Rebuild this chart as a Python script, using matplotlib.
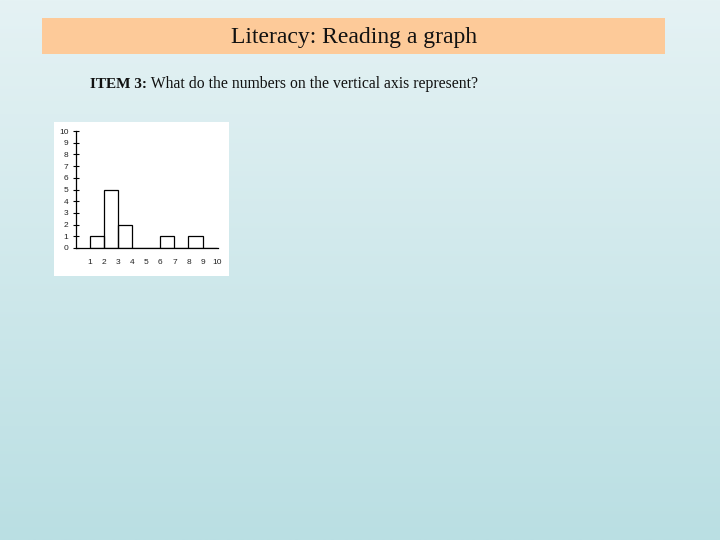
import numpy as np
import matplotlib
matplotlib.use("Agg")
import matplotlib.pyplot as plt
from matplotlib.patches import Rectangle

# Data
bin_edges = [1, 2, 3, 4, 5, 6, 7, 8, 9, 10]
counts = [1, 5, 2, 0, 0, 1, 0, 1, 0]
x_ticks = [1, 2, 3, 4, 5, 6, 7, 8, 9, 10]
y_ticks = [0, 1, 2, 3, 4, 5, 6, 7, 8, 9, 10]
title = "Literacy: Reading a graph"
item_bold = "ITEM 3:"
item_text = " What do the numbers on the vertical axis represent?"

W, H = 720, 540
fig = plt.figure(figsize=(7.2, 5.4), dpi=100)

# Background gradient
bg = fig.add_axes([0, 0, 1, 1])
bg.set_axis_off()
top = np.array([0xe5, 0xf2, 0xf4]) / 255
bot = np.array([0xba, 0xdf, 0xe3]) / 255
t = np.linspace(0, 1, 256)[:, None]
grad = top[None, :] * (1 - t) + bot[None, :] * t
bg.imshow(grad[:, None, :], aspect="auto", extent=[0, 1, 0, 1])
bg.set_xlim(0, 1)
bg.set_ylim(0, 1)

# Title box
bg.add_patch(Rectangle((42 / W, 1 - 54 / H), (665 - 42) / W, 36 / H,
                       facecolor="#fdca99", edgecolor="none", zorder=2))
bg.text(354 / W, 1 - 38 / H, title, ha="center", va="center",
        fontsize=17, family="Liberation Serif", color="#111111", zorder=3)

# Item text
tb = bg.text(90 / W, 1 - 84 / H, item_bold, ha="left", va="center",
             fontsize=11, family="Liberation Serif", fontweight="bold",
             color="#111111", zorder=3)
fig.canvas.draw()
ext = tb.get_window_extent(renderer=fig.canvas.get_renderer())
bg.text(ext.x1 / W, 1 - 84 / H, item_text, ha="left", va="center",
        fontsize=11.3, family="Liberation Serif", color="#111111", zorder=3)

# White inset
bg.add_patch(Rectangle((54 / W, 1 - 276 / H), (229 - 54) / W, (276 - 122) / H,
                       facecolor="white", edgecolor="none", zorder=2))

# Histogram axes
ax = fig.add_axes([76 / W, 1 - 248 / H, (218 - 76) / W, (248 - 131) / H])
ax.patch.set_alpha(0)
lefts = bin_edges[:-1]
widths = [b - a for a, b in zip(bin_edges[:-1], bin_edges[1:])]
ax.bar(lefts, counts, width=widths, align="edge", facecolor="none",
       edgecolor="black", linewidth=0.9)
ax.set_xlim(0, 10.1)
ax.set_ylim(0, 10)
for s in ["top", "right"]:
    ax.spines[s].set_visible(False)
ax.spines["left"].set_linewidth(0.9)
ax.spines["bottom"].set_linewidth(0.9)
ax.set_yticks(y_ticks)
ax.set_yticklabels([str(v) for v in y_ticks], family="Liberation Sans",
                   fontsize=6, color="#222222")
ax.set_xticks(x_ticks)
ax.set_xticklabels([str(v) for v in x_ticks], family="Liberation Sans",
                   fontsize=6, color="#222222")
ax.tick_params(axis="y", direction="inout", length=5, width=0.8, pad=3)
ax.tick_params(axis="x", length=0, pad=8)

fig.savefig("out.png", dpi=100)
